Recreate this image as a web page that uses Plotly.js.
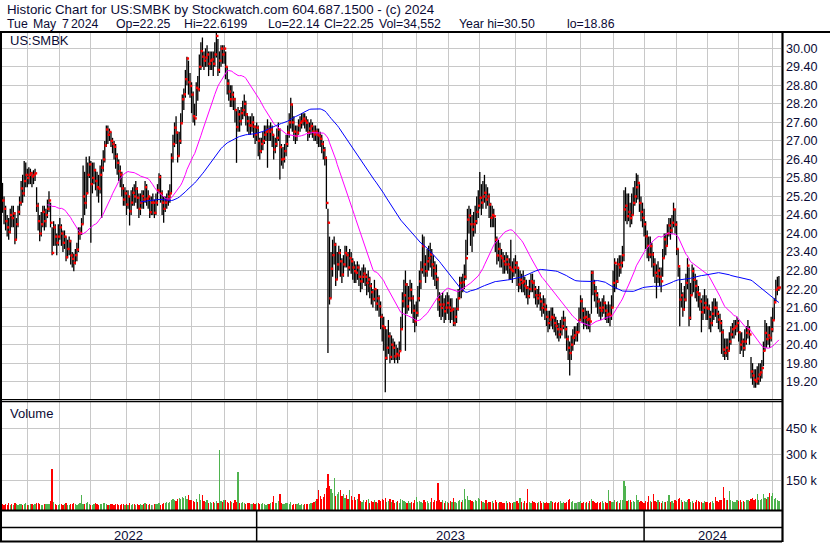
<!DOCTYPE html>
<html><head><meta charset="utf-8">
<script src="https://cdn.plot.ly/plotly-3.0.1.min.js"></script>
<style>html,body{margin:0;padding:0;background:#fff;}#chart{width:830px;height:543px;}</style>
</head><body><div id="chart"></div>
<script>
// ---------------- DATA ----------------
const startDate = '2022-05-09';
const endDate = '2024-05-07';
const holidays = ['2022-05-30','2022-06-20','2022-07-04','2022-09-05','2022-11-24','2022-12-26',
  '2023-01-02','2023-01-16','2023-02-20','2023-04-07','2023-05-29','2023-06-19','2023-07-04','2023-09-04','2023-11-23','2023-12-25',
  '2024-01-01','2024-01-15','2024-02-19','2024-03-29'];

const closes = [
25.07,24.8,24.4,24.2,24.05,24.6,24.5,24.65,23.8,24.3,
24.7,25.0,25.46,25.3,25.7,25.9,25.8,25.9,25.95,25.85,
25.9,25.95,24.9,24.4,24.0,24.3,24.7,24.4,24.6,24.8,
25.07,24.35,23.37,24.2,23.9,23.7,23.9,24.2,24.0,23.7,
23.9,23.23,23.5,23.75,23.29,23.18,23.05,23.3,23.48,24.0,
24.02,24.3,25.2,24.99,25.3,25.9,26.24,25.6,25.8,26.05,
25.7,25.5,25.45,25.9,26.13,26.4,26.85,27.37,27.2,27.29,
27.0,26.9,26.81,26.5,26.29,26.02,25.91,25.46,25.1,25.3,
24.94,25.2,24.72,25.0,25.32,25.2,25.45,25.16,24.8,25.0,
25.21,25.1,25.5,25.13,25.2,24.69,25.0,25.0,24.67,25.0,
25.4,25.83,25.3,25.0,24.8,25.0,25.1,25.2,25.3,26.45,
26.9,27.43,27.27,26.51,27.0,27.57,28.35,28.51,29.0,29.67,
28.9,28.78,28.5,27.8,27.73,28.72,28.67,29.4,29.91,29.73,
29.6,29.7,29.8,29.5,29.6,29.64,29.5,29.8,30.4,29.3,
29.6,29.99,29.8,29.99,29.4,28.86,28.6,28.35,28.5,28.35,
28.0,27.45,27.86,27.64,27.9,28.0,28.2,27.86,27.64,27.5,
27.5,27.6,27.46,27.21,27.43,27.0,26.67,26.9,27.0,27.2,
27.3,27.37,27.3,27.37,27.2,26.72,26.9,27.1,27.37,26.8,
26.4,26.42,26.67,26.9,27.27,27.6,28.18,27.6,27.3,27.16,
27.27,27.5,27.59,27.64,27.72,27.65,27.59,27.27,27.4,27.48,
27.3,27.21,27.3,27.2,27.16,27.07,26.9,26.7,26.45,24.99,
24.35,21.9,22.86,23.3,23.64,22.51,23.0,23.37,23.1,22.67,
23.0,23.37,23.3,22.9,23.2,23.1,22.9,22.78,22.73,22.9,
22.6,22.45,22.6,22.7,22.6,22.4,22.51,22.3,22.1,21.88,
22.2,21.73,21.9,21.64,21.3,21.0,20.94,19.97,20.3,20.67,
20.0,20.4,20.3,20.02,20.1,20.05,20.19,20.9,21.81,22.0,
22.35,21.64,21.9,22.18,21.9,21.5,21.16,21.43,21.9,22.45,
22.83,23.59,23.0,22.78,23.1,23.2,23.32,23.0,22.89,22.7,
22.51,21.86,21.7,21.59,21.7,21.48,21.6,21.75,21.6,21.5,
21.54,21.1,21.3,21.56,21.9,22.4,22.2,22.42,22.6,23.2,
24.45,24.58,24.3,24.13,24.3,24.4,24.7,24.9,25.16,25.0,
25.2,25.32,25.1,25.2,24.94,24.51,24.6,24.56,23.8,23.29,
23.5,23.27,23.2,23.1,23.0,23.16,23.0,22.9,22.83,22.78,
22.9,23.05,22.89,22.35,22.5,22.4,22.45,22.3,22.24,21.97,
22.2,22.45,22.4,22.2,22.0,21.9,22.0,21.8,21.59,21.7,
21.54,21.3,21.1,21.21,21.3,21.27,21.1,21.0,20.9,20.73,
20.9,21.0,21.19,20.9,20.58,20.3,20.13,20.4,20.62,20.7,
20.8,20.8,21.2,21.81,21.5,21.27,21.3,21.2,21.23,21.15,
22.73,22.4,22.13,22.0,21.8,21.59,21.5,21.6,21.75,21.5,
21.37,21.4,21.34,21.6,22.4,23.05,22.45,23.0,22.9,23.05,
23.3,24.78,24.9,24.56,24.7,24.5,24.6,24.99,25.2,25.5,
25.64,24.99,24.7,24.51,24.3,23.91,23.6,23.32,23.59,23.32,
23.0,22.73,22.62,22.8,22.6,22.45,23.2,23.81,23.6,24.0,
24.26,24.1,24.35,24.78,24.29,23.5,22.94,21.86,22.0,21.54,
21.86,22.4,22.96,21.27,22.0,22.78,22.5,22.3,22.1,22.02,
21.8,21.45,21.6,21.75,21.6,21.56,21.3,21.1,21.4,21.6,
21.59,21.4,21.21,21.1,20.8,20.24,20.13,20.3,20.2,20.5,
20.73,20.9,20.94,21.0,21.1,20.8,20.4,20.5,20.29,20.5,
20.78,20.9,20.73,19.53,19.4,19.26,19.21,19.3,19.43,19.5,
19.64,20.2,20.78,20.58,20.7,20.62,20.9,21.19,21.77,22.18,
22.24,22.25];

const highs = [
25.64,25.2,24.9,24.6,24.5,24.8,24.9,24.9,24.7,24.5,
24.9,25.2,25.7,25.9,26.35,26.3,26.1,26.15,26.1,26.0,
26.05,26.1,25.5,25.0,24.6,24.7,24.9,24.9,24.8,25.1,
25.37,25.0,24.2,24.4,24.3,24.0,24.3,24.5,24.3,24.1,
24.1,23.9,23.8,23.9,23.8,23.4,23.35,23.5,23.7,24.2,
24.2,24.5,26.2,26.0,26.49,26.3,26.5,26.35,26.3,26.3,
26.1,26.0,25.9,26.2,26.4,26.7,27.0,27.5,27.5,27.4,
27.3,27.1,27.0,26.9,26.6,26.4,26.2,26.0,25.6,25.5,
25.4,25.4,25.2,25.4,25.5,25.6,25.7,25.5,25.3,25.3,
25.4,25.4,25.7,25.6,25.4,25.2,25.2,25.3,25.1,25.3,
25.6,25.95,25.9,25.4,25.2,25.2,25.3,25.4,25.6,26.6,
27.2,27.6,27.8,27.3,27.3,27.9,28.5,28.7,29.3,29.73,
29.6,29.2,28.9,28.6,28.2,28.9,29.1,29.8,30.2,30.35,
29.9,30.0,30.1,29.9,29.9,29.9,29.9,30.2,30.5,30.3,
29.9,30.1,30.1,30.1,29.9,29.4,29.0,28.8,28.8,28.6,
28.4,28.0,28.1,28.0,28.1,28.3,28.5,28.3,27.9,27.8,
27.8,27.9,27.8,27.5,27.6,27.5,27.1,27.1,27.3,27.5,
27.5,27.7,27.5,27.6,27.5,27.2,27.1,27.4,27.6,27.4,
26.9,26.8,26.9,27.2,27.5,27.9,28.4,28.2,27.8,27.5,
27.5,27.7,27.8,27.9,27.9,27.9,27.8,27.7,27.6,27.7,
27.6,27.5,27.5,27.4,27.4,27.3,27.2,27.0,26.8,26.5,
24.8,23.9,23.4,23.8,23.9,23.7,23.4,23.6,23.5,23.2,
23.3,23.6,23.6,23.4,23.5,23.4,23.2,23.1,23.0,23.1,
23.0,22.8,22.9,23.0,22.9,22.7,22.8,22.6,22.4,22.2,
22.5,22.2,22.2,22.0,21.8,21.4,21.3,21.0,20.9,21.2,
20.8,20.7,20.6,20.5,20.4,20.3,20.5,21.3,22.1,22.5,
22.8,22.4,22.3,22.5,22.4,22.0,21.7,21.8,22.3,22.8,
23.1,23.97,23.9,23.3,23.5,23.6,23.7,23.5,23.3,23.1,
23.0,22.6,22.1,22.0,22.1,21.9,22.0,22.1,22.0,21.9,
21.9,21.6,21.6,21.9,22.2,22.6,22.6,22.7,23.0,23.8,
24.8,24.9,24.8,24.6,24.7,24.9,25.2,25.4,25.99,25.6,
25.7,25.9,25.6,25.5,25.3,25.0,24.9,24.8,24.5,23.9,
23.8,23.7,23.5,23.4,23.3,23.4,23.3,23.2,23.8,23.1,
23.2,23.3,23.1,22.9,22.8,22.7,22.8,22.6,22.5,22.3,
22.5,22.7,22.7,22.5,22.3,22.2,22.3,22.1,21.9,22.0,
21.9,21.7,21.5,21.5,21.6,21.6,21.4,21.3,21.2,21.1,
21.2,21.3,21.5,21.3,21.0,20.7,20.5,20.7,20.9,21.0,
21.0,21.1,21.6,22.0,21.9,21.6,21.6,21.5,21.5,21.4,
22.8,22.8,22.5,22.3,22.1,21.9,21.8,21.9,22.0,21.8,
21.7,21.8,21.7,22.0,22.8,23.2,23.0,23.2,23.3,23.3,
23.6,25.4,25.5,25.3,25.3,25.0,25.3,25.5,25.7,25.95,
25.9,25.6,25.2,25.0,24.8,24.4,24.1,23.9,23.9,23.7,
23.4,23.2,23.0,23.1,22.9,22.9,23.5,24.0,24.0,24.3,
24.5,24.5,24.6,25.0,24.8,24.4,23.5,22.9,22.4,22.1,
22.3,22.7,23.2,22.9,22.4,23.0,22.9,22.7,22.5,22.3,
22.1,21.9,22.0,22.2,22.0,21.9,21.7,21.5,21.8,21.9,
21.9,21.8,21.5,21.4,21.2,20.9,20.6,20.6,20.6,20.8,
21.0,21.1,21.2,21.2,21.3,21.2,20.8,20.8,20.6,20.9,
21.0,21.2,21.0,20.0,19.8,19.6,19.6,19.7,19.8,19.8,
19.9,20.5,21.2,21.1,21.0,21.0,21.3,21.6,21.9,22.5,
22.6,22.62];

const lows = [
24.67,24.3,24.1,23.9,23.8,24.0,24.2,24.2,23.65,23.8,
24.2,24.6,24.9,25.0,25.2,25.5,25.5,25.6,25.6,25.5,
25.6,25.7,24.7,24.1,23.75,23.9,24.2,24.1,24.2,24.5,
24.7,24.2,23.3,23.6,23.6,23.3,23.6,23.8,23.6,23.4,
23.5,23.1,23.2,23.3,23.0,22.9,22.78,23.0,23.1,23.4,
23.8,23.95,24.3,24.6,24.8,25.3,25.8,23.7,25.3,25.6,
25.4,25.2,25.0,25.3,24.5,26.0,26.3,26.8,26.9,27.0,
26.8,26.6,26.4,26.1,25.9,25.7,25.5,25.2,24.9,24.9,
24.6,24.8,24.26,24.6,24.9,24.9,25.0,24.8,24.5,24.6,
24.8,24.8,25.0,24.9,24.8,24.5,24.6,24.6,24.5,24.6,
24.9,25.3,25.0,24.6,24.35,24.7,24.8,24.9,25.0,25.3,
26.3,26.8,26.9,26.3,26.5,26.9,27.6,28.0,28.4,28.8,
28.5,28.4,27.9,27.6,27.5,27.8,28.3,28.6,29.3,29.4,
29.3,29.4,29.4,29.1,29.3,29.3,29.1,29.4,29.7,29.1,
29.2,29.4,29.5,29.5,29.0,28.5,28.3,28.1,28.1,28.0,
27.6,26.29,27.3,27.3,27.5,27.7,27.8,27.5,27.3,27.2,
27.2,27.3,27.1,26.9,27.0,26.5,26.4,26.6,26.7,26.9,
27.0,26.13,27.0,27.0,26.8,26.4,26.6,26.8,27.0,25.75,
26.2,26.1,26.3,26.5,26.8,27.1,27.4,27.3,27.0,26.9,
27.0,27.2,27.3,27.4,27.5,27.4,27.3,27.0,27.1,27.2,
27.1,27.0,27.0,26.9,26.8,26.8,26.6,26.4,26.2,24.8,
20.13,21.7,21.9,22.6,23.0,22.3,22.5,22.8,22.6,22.4,
22.6,22.9,22.9,22.6,22.8,22.7,22.5,22.4,22.4,22.5,
22.3,22.1,22.2,22.4,22.3,22.0,22.1,21.9,21.7,21.6,
21.8,21.5,21.5,21.3,20.9,20.5,20.2,18.86,19.9,20.1,
19.8,19.9,19.9,19.8,19.9,19.8,19.9,20.2,20.9,21.6,
20.2,21.4,21.5,21.8,21.4,21.1,20.8,21.0,21.3,21.8,
22.2,22.7,22.6,22.4,22.6,22.8,22.9,22.6,22.5,22.3,
22.2,21.5,21.3,21.2,21.3,21.1,21.2,21.4,21.2,21.1,
21.2,21.0,21.0,21.1,21.5,21.9,21.9,22.1,22.2,22.5,
23.3,24.0,23.6,23.4,23.9,24.0,24.3,24.5,24.8,24.6,
24.8,25.0,24.8,24.9,24.5,24.2,24.2,24.2,23.4,23.0,
23.1,22.9,22.9,22.7,22.7,22.8,22.7,22.5,22.5,22.4,
22.6,22.7,22.3,22.1,22.2,22.1,22.1,22.0,21.9,21.7,
21.9,22.1,22.1,21.9,21.7,21.6,21.7,21.5,21.3,21.4,
21.2,21.0,20.8,20.9,21.0,20.9,20.8,20.7,20.6,20.5,
20.6,20.7,20.9,20.6,20.2,19.9,19.4,19.9,20.2,20.4,
20.5,20.5,20.8,21.2,21.1,20.9,21.0,20.9,20.9,20.8,
21.4,22.0,21.8,21.6,21.4,21.3,21.2,21.3,21.4,21.2,
21.1,21.1,21.0,21.2,21.6,22.1,22.2,22.4,22.6,22.7,
22.9,23.1,24.4,24.3,24.4,24.2,24.3,24.6,24.9,25.0,
25.1,24.7,24.4,24.2,23.9,23.5,23.2,23.1,23.2,22.9,
22.6,22.4,21.9,22.4,22.3,22.1,22.6,23.2,23.3,23.6,
23.9,23.8,24.0,24.2,24.0,23.3,22.6,21.0,21.6,21.3,
21.5,21.8,22.2,21.0,21.2,22.0,22.1,21.9,21.8,21.6,
21.5,20.8,21.2,21.4,21.2,21.2,20.9,20.8,21.0,21.2,
21.3,21.1,20.9,20.8,20.1,20.0,19.9,20.0,19.9,20.2,
20.4,20.6,20.6,20.7,20.8,20.5,20.1,20.2,20.0,20.2,
20.4,20.6,20.4,19.3,19.1,19.0,19.0,19.1,19.1,19.2,
19.3,19.7,20.2,20.3,20.4,20.3,20.5,20.8,21.2,21.8,
22.0,22.14];

// daily volume, thousands of shares
const volumeK = [
12,8,15,10,18,9,14,11,20,13,9,16,12,10,14,18,11,9,13,15,
10,12,19,22,14,11,9,13,17,12,15,30,217,25,14,11,9,16,12,10,
13,18,11,9,15,12,20,14,10,17,22,66,15,12,18,24,14,11,9,16,
20,13,10,12,15,18,22,14,9,11,13,16,10,12,14,9,11,15,12,10,
14,11,18,9,12,16,10,13,11,15,9,12,18,14,10,13,11,9,16,12,
14,20,11,15,18,22,25,18,28,40,45,38,30,45,50,42,55,48,60,45,
66,40,35,30,25,45,28,72,35,66,30,25,40,22,28,18,25,20,30,22,
326,30,25,35,40,28,22,30,25,20,35,28,197,22,18,25,20,15,22,18,
14,12,20,15,22,18,12,15,20,14,10,16,12,18,25,62,18,22,30,72,
20,15,12,18,22,14,25,10,16,12,14,18,11,15,9,13,16,12,14,18,
20,25,30,45,95,60,45,55,70,110,188,120,100,80,163,60,70,85,95,60,
75,50,65,45,95,60,40,55,35,45,72,30,25,40,28,35,45,22,30,25,
35,28,22,40,30,45,38,47,25,30,42,28,35,20,25,30,22,45,38,30,
25,18,30,22,28,20,35,56,25,30,28,22,40,25,30,22,28,47,25,35,
30,134,40,28,35,22,30,25,20,30,28,47,25,22,30,35,28,40,100,45,
60,35,40,30,25,35,30,47,42,30,25,22,35,20,28,25,30,22,35,25,
20,28,25,18,22,30,20,25,18,22,28,25,30,20,47,25,20,30,22,100,
28,22,30,25,20,18,25,30,22,28,20,25,18,22,30,25,20,28,22,25,
30,22,25,20,28,35,45,25,30,22,20,28,25,30,22,25,20,28,22,30,
45,30,25,20,28,22,25,30,20,25,22,95,30,25,28,35,25,30,22,40,
35,148,121,30,40,35,28,30,25,66,35,25,30,28,22,30,25,62,30,28,
70,30,25,35,28,22,30,25,28,30,66,25,30,22,40,30,45,50,35,28,
30,25,35,45,28,30,22,25,35,30,28,25,22,30,25,28,20,25,30,22,
56,30,25,35,40,113,50,35,40,90,35,30,28,25,35,30,40,28,30,25,
35,40,30,45,50,38,42,75,40,35,45,75,50,45,55,80,60,80,45,50,
37,34.552];

const priceTicks = [19.2,19.8,20.4,21.0,21.6,22.2,22.8,23.4,24.0,24.6,25.2,25.8,26.4,27.0,27.6,28.2,28.8,29.4,30.0];
const volumeTicks = [150,300,450];
const volumeTickText = ['150 k','300 k','450 k'];
const maShort = 30, maLong = 90;
const symbolLabel = 'US:SMBK';
const panelLabelVolume = 'Volume';
const header1 = 'Historic Chart for US:SMBK by Stockwatch.com 604.687.1500 - (c) 2024';
const header2Parts = ['Tue','May','7','2024','Op=22.25','Hi=22.6199','Lo=22.14','Cl=22.25','Vol=34,552','Year hi=30.50','lo=18.86'];
const yearLabels = ['2022','2023','2024'];

// ---------------- BUILD ----------------
function tradingDays(start, end, hol){
  const out=[]; const h=new Set(hol);
  const d=new Date(start+'T00:00:00Z'); const e=new Date(end+'T00:00:00Z');
  while(d<=e){ const wd=d.getUTCDay(); const s=d.toISOString().slice(0,10);
    if(wd!==0 && wd!==6 && !h.has(s)) out.push(s);
    d.setUTCDate(d.getUTCDate()+1); }
  return out;
}
const dates = tradingDays(startDate, endDate, holidays);
const idx = closes.map((_,i)=>i);
if (dates.length !== closes.length) console.log('length mismatch', dates.length, closes.length);

const monthStarts = [];
const yearStarts = [];
dates.forEach((s,i)=>{ if(i>0 && s.slice(0,7)!==dates[i-1].slice(0,7)) monthStarts.push(i);
  if(i>0 && s.slice(0,4)!==dates[i-1].slice(0,4)) yearStarts.push(i); });

function sma(arr,n){ return arr.map((_,i)=> i<n-1 ? null : arr.slice(i-n+1,i+1).reduce((a,b)=>a+b,0)/n); }
const ma1 = sma(closes, maShort), ma2 = sma(closes, maLong);

const segX=[], segY=[];
idx.forEach(i=>{ segX.push(i,i,null); segY.push(lows[i],highs[i],null); });

const GREEN='#4fb34f', RED='#ff0000', GRAY='#a0a0a0';
const volColors = closes.map((c,i)=> i===0 ? RED : (c>closes[i-1] ? GREEN : (c<closes[i-1] ? RED : GRAY)));
const VMIN = -20, VMAX = 604;

const W=830,H=543,L=1,R=49,T=33,B=33;
const plotW=W-L-R, plotH=H-T-B;
const px2x = px => (px-L)/plotW;
const py2y = py => (H-B-py)/plotH;
const XR = [-0.97, 502.35];
const i2x = i => (i-XR[0])/(XR[1]-XR[0]);

const FONT = 'Liberation Sans, Arial, sans-serif';
const TXT = '#0b0b35';

const traces = [
  {type:'scatter', mode:'lines', x:segX, y:segY, line:{color:'#000', width:1.3}, xaxis:'x', yaxis:'y', hoverinfo:'skip'},
  {type:'scatter', mode:'markers', x:idx.map(i=>i+0.6), y:closes, marker:{symbol:'square', size:2.4, color:'#ff0000', line:{width:0}}, xaxis:'x', yaxis:'y', hoverinfo:'skip'},
  {type:'scatter', mode:'lines', x:idx, y:ma1, line:{color:'#ff00ff', width:1}, xaxis:'x', yaxis:'y', connectgaps:false},
  {type:'scatter', mode:'lines', x:idx, y:ma2, line:{color:'#0000ff', width:1}, xaxis:'x', yaxis:'y', connectgaps:false},
  {type:'bar', x:idx, y:volumeK.map(v=>v-VMIN), base:VMIN, width:0.8, marker:{color:volColors, line:{width:0}}, xaxis:'x', yaxis:'y2'}
];

const header2X = [6,32,61,70,115,183,267,323,378,458,566];
const annotations = [
  {text:header1, xref:'paper', yref:'paper', x:px2x(5), y:py2y(9.5), xanchor:'left', yanchor:'middle', showarrow:false, font:{family:FONT, size:13.3, color:TXT}},
  {text:symbolLabel, xref:'paper', yref:'paper', x:px2x(8), y:py2y(41), xanchor:'left', yanchor:'middle', showarrow:false, font:{family:FONT, size:13, color:TXT}},
  {text:panelLabelVolume, xref:'paper', yref:'paper', x:px2x(8), y:py2y(413), xanchor:'left', yanchor:'middle', showarrow:false, font:{family:FONT, size:13, color:TXT}}
];
header2Parts.forEach((t,k)=>annotations.push({text:t, xref:'paper', yref:'paper', x:px2x(header2X[k]-1), y:py2y(23.5), xanchor:'left', yanchor:'middle', showarrow:false, font:{family:FONT, size:12.3, color:TXT}}));
const yb = [XR[0], ...yearStarts, XR[1]];
yearLabels.forEach((t,k)=>annotations.push({text:t, xref:'x', yref:'paper', x:(yb[k]+yb[k+1])/2, y:py2y(535), xanchor:'center', yanchor:'middle', showarrow:false, font:{family:FONT, size:13, color:TXT}}));

const ln = (x0,y0,x1,y1,w)=>({type:'line', xref:'paper', yref:'paper', x0:px2x(x0), y0:py2y(y0), x1:px2x(x1), y1:py2y(y1), line:{color:'#000', width:w}});
const shapes = [
  ln(0,32,830,32,2.2),
  ln(1,32,1,542,2),
  ln(782.5,32,782.5,542,2.2),
  ln(0,399.6,782,399.6,1.2),
  ln(0,401.6,782,401.6,1.2),
  ln(0,510.5,782,510.5,2),
  ln(0,527.5,782,527.5,1.5),
  ln(0,541.5,782,541.5,2)
];
yearStarts.forEach(i=>shapes.push({type:'line', xref:'paper', yref:'paper', x0:i2x(i), x1:i2x(i), y0:py2y(510), y1:py2y(542), line:{color:'#000', width:1.5}}));

const layout = {
  width:W, height:H, margin:{l:L, r:R, t:T, b:B, pad:0},
  paper_bgcolor:'#fff', plot_bgcolor:'#fff', showlegend:false, hovermode:false,
  bargap:0,
  xaxis:{type:'linear', range:XR, tickvals:monthStarts, showticklabels:false, ticks:'', showgrid:true, gridcolor:'#c8c8c8', gridwidth:1, zeroline:false, showline:false, fixedrange:true},
  yaxis:{domain:[py2y(400),1], range:[18.607,30.496], side:'right', tickvals:priceTicks, ticktext:priceTicks.map(v=>v.toFixed(2)), ticks:'', ticklabelstandoff:4,
    showgrid:true, gridcolor:'#c8c8c8', gridwidth:1, zeroline:false, showline:false, tickfont:{family:FONT, size:12.6, color:TXT}},
  yaxis2:{domain:[0,py2y(402)], range:[VMIN,VMAX], side:'right', tickvals:volumeTicks, ticktext:volumeTickText, ticks:'', ticklabelstandoff:4,
    showgrid:true, gridcolor:'#c8c8c8', gridwidth:1, zeroline:false, showline:false, tickfont:{family:FONT, size:12.6, color:TXT}},
  annotations, shapes
};
Plotly.newPlot('chart', traces, layout, {displayModeBar:false, staticPlot:true});
</script></body></html>
